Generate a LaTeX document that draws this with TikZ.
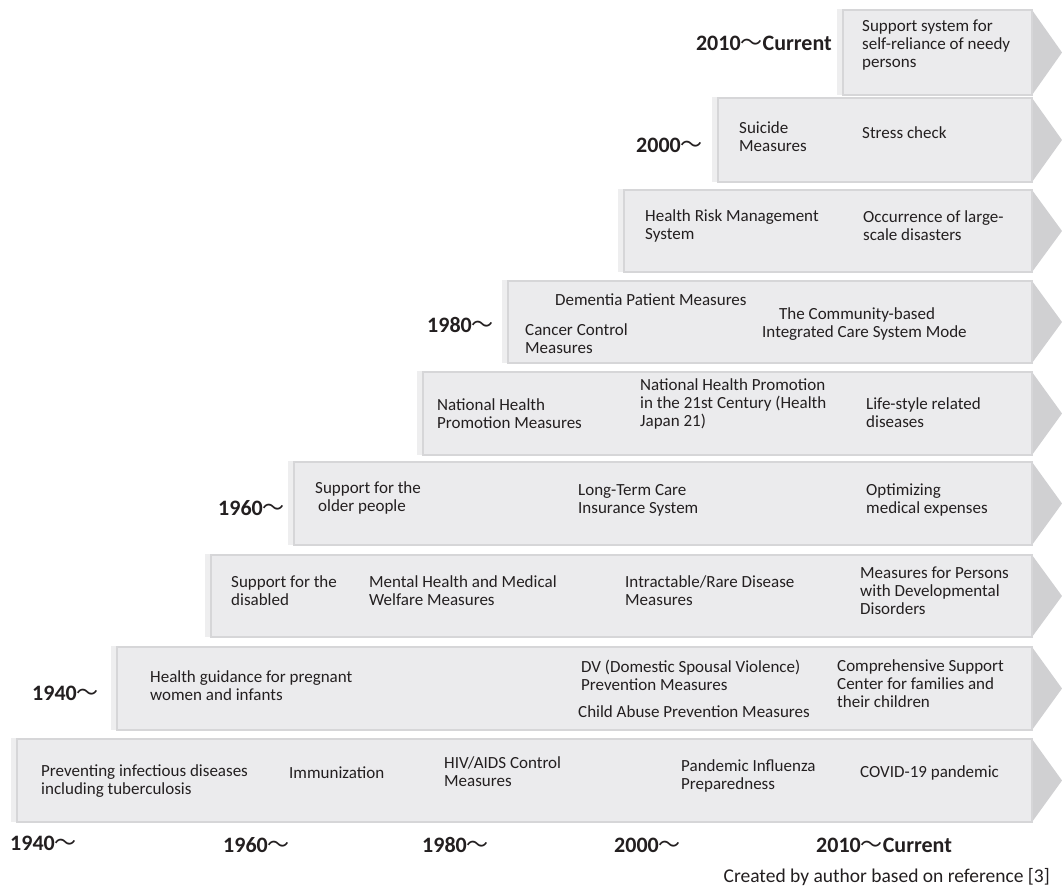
\documentclass[tikz,border=0pt]{standalone}
\usepackage{fontspec}
\setmainfont{Carlito}
\newfontfamily\cjkfont{Noto Sans CJK JP}
\definecolor{boxfill}{HTML}{EBEBED}
\definecolor{boxline}{HTML}{D6D6D8}
\definecolor{arrowfill}{HTML}{D0D0D2}
\definecolor{shadowfill}{HTML}{EEEEEF}
\definecolor{txt}{HTML}{231F20}
\newcommand{\wv}{{\cjkfont\mdseries ～}}
\tikzset{
  lbl/.style={anchor=west, align=left, inner sep=0pt, font=\fontsize{17}{18}\selectfont, text=txt},
  yr/.style={inner sep=0pt, font=\fontsize{22}{24}\selectfont\bfseries, text=txt},
  barbox/.style={fill=boxfill, draw=boxline, line width=1.5pt},
}
\newcommand{\timebar}[3]{%
  \fill[shadowfill] (#1-6,#2-1) rectangle (#1,#3);
  \fill[arrowfill] (1032,#2) -- (1062,{(#2+#3)/2}) -- (1032,#3) -- cycle;
  \draw[barbox] (#1,#2) rectangle (1032,#3);
}
\begin{document}
\begin{tikzpicture}[x=1pt,y=-1pt]
\useasboundingbox (0,0) rectangle (1062,889);
\fill[white] (0,0) rectangle (1062,889);
% bars
\timebar{843}{10}{95}
\timebar{718}{98}{182}
\timebar{624}{190}{272}
\timebar{508}{281}{363}
\timebar{423}{372}{455}
\timebar{294}{462}{545}
\timebar{211}{555}{637}
\timebar{117}{647}{730}
\timebar{17}{739}{822}
% bar 1
\node[lbl] (a1) at (862,45) {Support system for\\self-reliance of needy\\persons};
% bar 2
\node[lbl] (b1) at (739,137) {Suicide\\Measures};
\node[lbl] (b2) at (862,133) {Stress check};
% bar 3
\node[lbl] (c1) at (645,226) {Health Risk Management\\System};
\node[lbl] (c2) at (863,226) {Occurrence of large-\\scale disasters};
% bar 4
\node[lbl] (d1) at (555,300) {Dementia Patient Measures};
\node[lbl] (d2) at (525,339) {Cancer Control\\Measures};
\node[lbl] (d3) at (762,324) {\hspace*{17pt}The Community-based\\Integrated Care System Mode};
% bar 5
\node[lbl] (e1) at (437,414) {National Health\\Promotion Measures};
\node[lbl] (e2) at (640,404) {National Health Promotion\\in the 21st Century (Health\\Japan 21)};
\node[lbl] (e3) at (866,413) {Life-style related\\diseases};
% bar 6
\node[lbl] (f1) at (315,498) {Support for the\\\hspace*{3pt}older people};
\node[lbl] (f2) at (578,500) {Long-Term Care\\Insurance System};
\node[lbl] (f3) at (866,500) {Optimizing\\medical expenses};
% bar 7
\node[lbl] (g1) at (231,591) {Support for the\\disabled};
\node[lbl] (g2) at (369,591) {Mental Health and Medical\\Welfare Measures};
\node[lbl] (g3) at (625,591) {Intractable/Rare Disease\\Measures};
\node[lbl] (g4) at (860,591) {Measures for Persons\\with Developmental\\Disorders};
% bar 8
\node[lbl] (h1) at (150,686) {Health guidance for pregnant\\women and infants};
\node[lbl] (h2) at (581,675) {DV (Domestic Spousal Violence)\\Prevention Measures};
\node[lbl] (h3) at (578,712) {Child Abuse Prevention Measures};
\node[lbl] (h4) at (837,684) {Comprehensive Support\\Center for families and\\their children};
% bar 9
\node[lbl] (i1) at (41,781) {Preventing infectious diseases\\including tuberculosis};
\node[lbl] (i2) at (289,773) {Immunization};
\node[lbl] (i3) at (444,772) {HIV/AIDS Control\\Measures};
\node[lbl] (i4) at (681,776) {Pandemic Influenza\\Preparedness};
\node[lbl] (i5) at (860,773) {COVID-19 pandemic};
% year labels (left of bars)
\node[yr, anchor=east] (y1) at (832,43) {2010\wv Current};
\node[yr, anchor=east] (y2) at (703,145) {2000\wv};
\node[yr, anchor=east] (y3) at (494,325) {1980\wv};
\node[yr, anchor=east] (y4) at (285,508) {1960\wv};
\node[yr, anchor=east] (y5) at (99,693) {1940\wv};
% axis labels
\node[yr, anchor=west] (x1) at (10,843) {1940\wv};
\node[yr, anchor=west] (x2) at (223,845) {1960\wv};
\node[yr, anchor=west] (x3) at (422,845) {1980\wv};
\node[yr, anchor=west] (x4) at (614,845) {2000\wv};
\node[yr, anchor=west] (x5) at (816,845) {2010\wv Current};
% caption
\node[lbl, anchor=east, font=\fontsize{19.5}{21}\selectfont] (cap) at (1050,877) {Created by author based on reference [3]};
\end{tikzpicture}
\end{document}
